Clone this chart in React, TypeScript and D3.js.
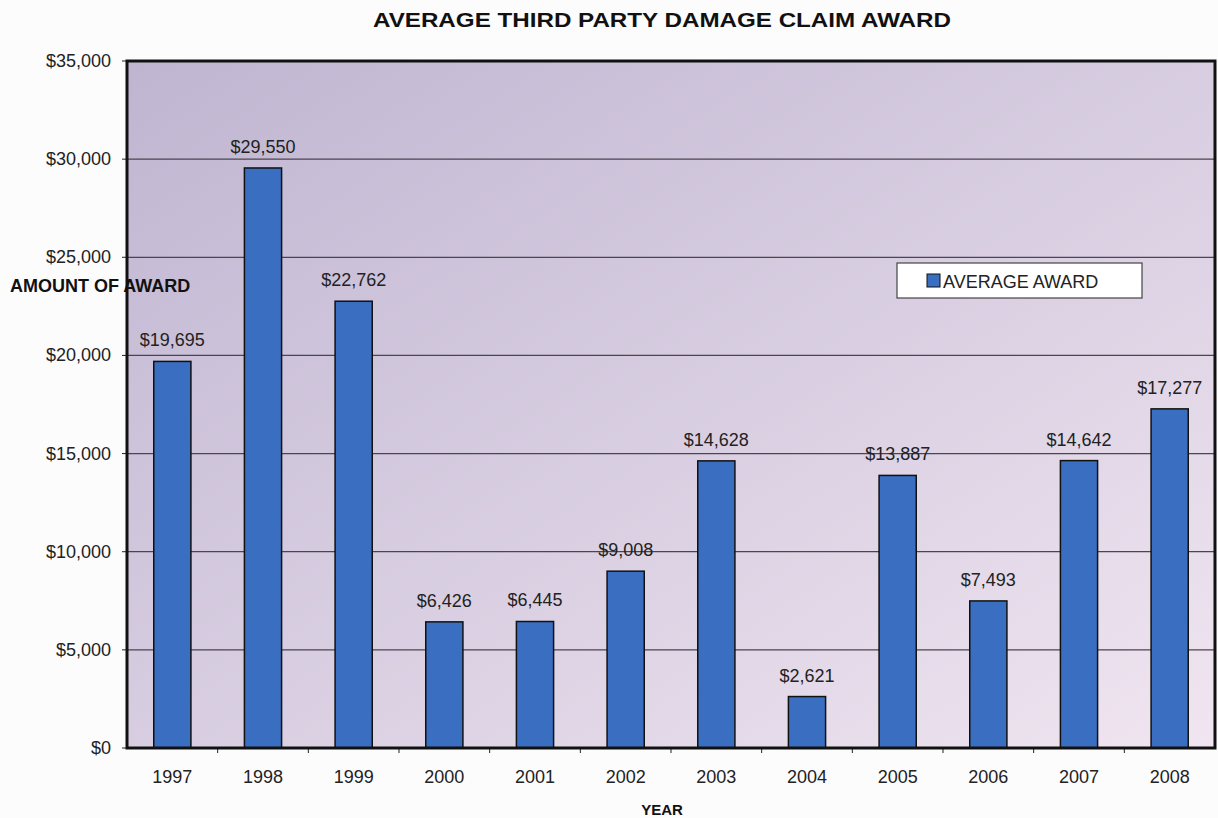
import React from "react";
import * as d3 from "d3";

const years = ["1997","1998","1999","2000","2001","2002","2003","2004","2005","2006","2007","2008"];
const awards = [19695, 29550, 22762, 6426, 6445, 9008, 14628, 2621, 13887, 7493, 14642, 17277];
const yTicks = [0, 5000, 10000, 15000, 20000, 25000, 30000, 35000];

const W = 1218, H = 818;
const m = { left: 127, right: 1215, top: 61, bottom: 748 };
const font = "Arial, 'Liberation Sans', sans-serif";

export default function App() {
  const x = d3.scaleBand().domain(years).range([m.left, m.right]).paddingInner(0.59).paddingOuter(0.295);
  const xb = d3.scaleBand().domain(years).range([m.left, m.right]);
  const y = d3.scaleLinear().domain([0, 35000]).range([m.bottom, m.top]);
  const fmt = (v: number) => "$" + d3.format(",")(v);

  return (
    <svg width={W} height={H} style={{ position: "absolute", left: 0, top: 0, background: "#fdfcfd" }}>
      <defs>
        <linearGradient id="bg" x1="0" y1="0" x2="1" y2="1">
          <stop offset="0" stopColor="#bfb5d1" />
          <stop offset="1" stopColor="#f0e5f0" />
        </linearGradient>
      </defs>
      <text x={373} y={27} textLength={578} lengthAdjust="spacingAndGlyphs" fontFamily={font} fontWeight="bold" fontSize={20} fill="#111">AVERAGE THIRD PARTY DAMAGE CLAIM AWARD</text>
      <rect x={m.left} y={m.top} width={m.right - m.left} height={m.bottom - m.top} fill="url(#bg)" />
      {yTicks.map(t => (
        <g key={t}>
          {t > 0 && t < 35000 && <line x1={m.left} x2={m.right} y1={y(t)} y2={y(t)} stroke="#4a4550" strokeWidth={1.2} />}
          <line x1={m.left - 5} x2={m.left} y1={y(t)} y2={y(t)} stroke="#222" strokeWidth={1} />
          <text x={111} y={y(t) + 6} textAnchor="end" fontFamily={font} fontSize={18} fill="#222">{fmt(t)}</text>
        </g>
      ))}
      {years.map((yr, i) => (
        <g key={yr}>
          <rect x={x(yr)} y={y(awards[i])} width={x.bandwidth()} height={m.bottom - y(awards[i])} fill="#3a6ec0" stroke="#111" strokeWidth={1.5} />
          <text x={(x(yr) as number) + x.bandwidth() / 2} y={y(awards[i]) - 15} textAnchor="middle" fontFamily={font} fontSize={18} fill="#222">{fmt(awards[i])}</text>
          <text x={(xb(yr) as number) + xb.bandwidth() / 2} y={783} textAnchor="middle" fontFamily={font} fontSize={18} fill="#222">{yr}</text>
          {i > 0 && <line x1={xb(yr)} x2={xb(yr)} y1={m.bottom} y2={m.bottom + 5} stroke="#222" />}
        </g>
      ))}
      <rect x={m.left} y={m.top} width={m.right - m.left} height={m.bottom - m.top} fill="none" stroke="#111" strokeWidth={3} />
      <text x={10} y={292} fontFamily={font} fontWeight="bold" fontSize={18} fill="#111">AMOUNT OF AWARD</text>
      <text x={662} y={815} textAnchor="middle" fontFamily={font} fontWeight="bold" fontSize={15} fill="#111">YEAR</text>
      <rect x={897} y={263} width={245} height={35} fill="#ffffff" stroke="#444" strokeWidth={1.2} />
      <rect x={927} y={274} width={13} height={13} fill="#3a6ec0" stroke="#111" strokeWidth={1} />
      <text x={943} y={288} fontFamily={font} fontSize={18} fill="#222">AVERAGE AWARD</text>
    </svg>
  );
}
